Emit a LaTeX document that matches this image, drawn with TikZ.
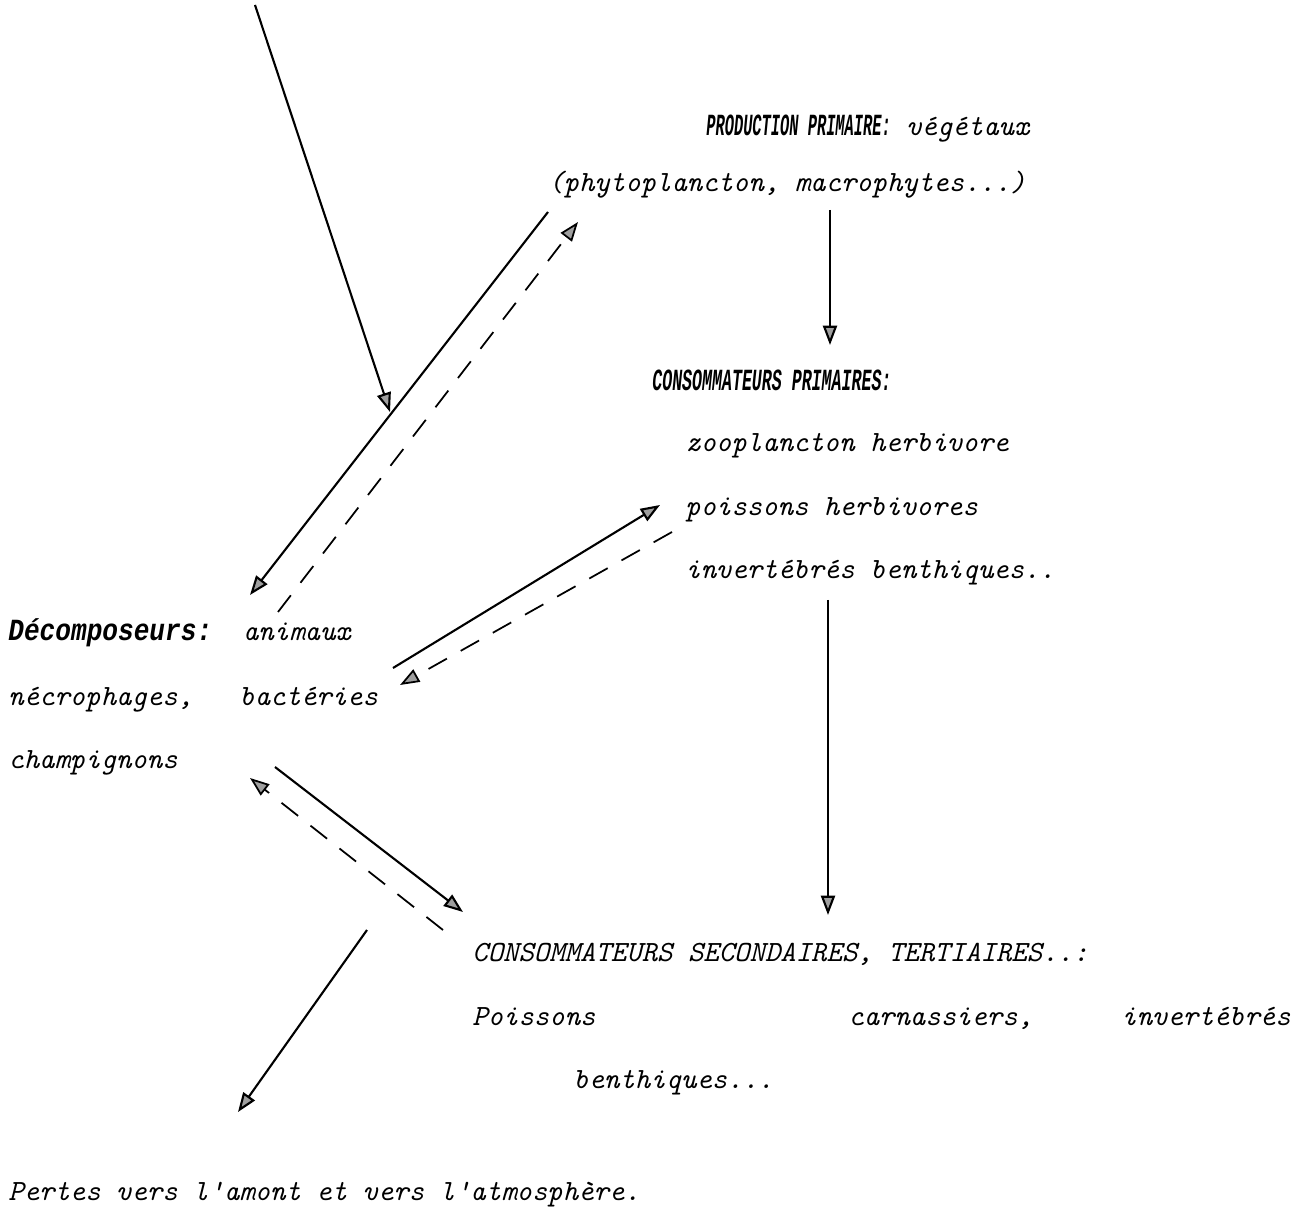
\documentclass[tikz,border=0pt]{standalone}
\usepackage{fontspec}
\newfontfamily\headfont{Liberation Mono}
\usepackage{graphicx}
\usetikzlibrary{arrows.meta}

\tikzset{
  txt/.style={anchor=base west, inner sep=0pt, font=\fontsize{16.7}{19}\selectfont\ttfamily\itshape},
  flow/.style={line width=1.2pt, -{Triangle[length=11pt,width=8pt,fill=gray!75]}},
  back/.style={flow, line width=1pt, dash pattern=on 12pt off 9pt}
}
\newcommand{\heading}[2]{{\fontsize{17.5}{19}\headfont\bfseries\itshape\scalebox{#1}[1]{#2}}}

\begin{document}
\begin{tikzpicture}[x=0.02cm,y=-0.02cm]
      \useasboundingbox (0,0) rectangle (1306,1226);

      \node[txt] (PP)  at (706,136)  {\heading{0.5}{PRODUCTION PRIMAIRE:} végétaux};
      \node[txt] (PPv) at (548,192)  {(phytoplancton, macrophytes...)};

      \node[txt] (CP)  at (652,391)  {\heading{0.54}{CONSOMMATEURS PRIMAIRES:}};
      \node[txt] (CPz) at (685,452)  {zooplancton herbivore};
      \node[txt] (CPp) at (685,516)  {poissons herbivores};
      \node[txt] (CPi) at (685,579)  {invertébrés benthiques..};

      \node[txt] (D)   at (8,641)    {\heading{0.85}{Décomposeurs:}\ \ animaux};
      \node[txt] (Dn)  at (8,705)    {nécrophages,\ \ \ bactéries};
      \node[txt] (Dc)  at (8,768)    {champignons};

      \node[txt] (CS)  at (472,961)  {CONSOMMATEURS SECONDAIRES, TERTIAIRES..:};
      \node[txt] (CSa) at (472,1025) {Poissons};
      \node[txt] (CSb) at (848,1025) {carnassiers,};
      \node[txt] (CSc) at (1121,1025) {invertébrés};
      \node[txt] (CSd) at (573,1088) {benthiques...};

      \node[txt] (L)   at (8,1200)   {Pertes vers l'amont et vers l'atmosphère.};

      \coordinate (inS) at (255,5);     \coordinate (inE) at (390,412);
      \coordinate (pdS) at (548,212);   \coordinate (pdE) at (250,595);
      \coordinate (dpS) at (278,612);   \coordinate (dpE) at (578,222);
      \coordinate (dcS) at (393,668);   \coordinate (dcE) at (660,505);
      \coordinate (cdS) at (672,532);   \coordinate (cdE) at (400,685);
      \coordinate (dsS) at (275,767);   \coordinate (dsE) at (463,912);
      \coordinate (sdS) at (443,930);   \coordinate (sdE) at (250,778);
      \coordinate (lsS) at (367,930);   \coordinate (lsE) at (238,1112);
      \coordinate (pcS) at (830,210);   \coordinate (pcE) at (830,345);
      \coordinate (csS) at (828,600);   \coordinate (csE) at (828,915);

      \draw[flow] (inS) -- (inE);
      \draw[flow] (pdS) -- (pdE);
      \draw[back] (dpS) -- (dpE);
      \draw[flow] (dcS) -- (dcE);
      \draw[back] (cdS) -- (cdE);
      \draw[flow] (dsS) -- (dsE);
      \draw[back] (sdS) -- (sdE);
      \draw[flow] (lsS) -- (lsE);
      \draw[flow] (pcS) -- (pcE);
      \draw[flow] (csS) -- (csE);
\end{tikzpicture}
\end{document}
